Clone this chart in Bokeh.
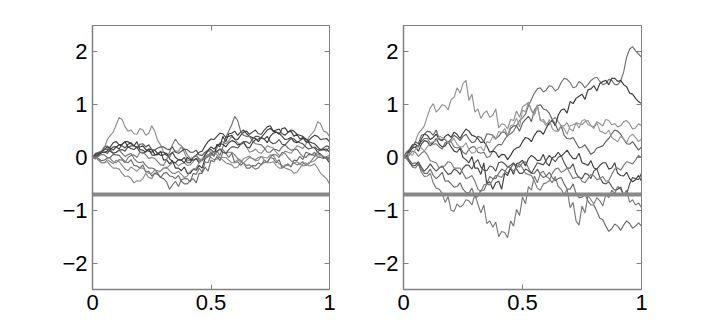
from bokeh.plotting import figure
from bokeh.layouts import row
from bokeh.models import Range1d, LinearAxis, FixedTicker
from bokeh.embed import file_html
from bokeh.resources import INLINE

# ---- left panel paths (small variance), equally spaced samples on [0, 1] ----
L1 = [0, .07, .06, .08, .18, .34, .42, .48, .62, .76, .72, .58, .5, .52, .45, .44, .55, .52, .42, .46, .6, .5, .32, .24, .1, .08, 0, .1, .12, .12, .2, .1, -.05, -.06, 0, .05, -.02, -.05, .05, .12, .1, .1, .18, .28, .3, .26, .32, .4, .35, .28, .25, .27, .2, .1, .12, .16, .1, .08, .15, .22, .2, .18, .1, .04, .05, .12, .1, .08, .15, .22, .2, .17, .25, .38, .45, .52, .68, .64, .5, .48, .4]
L2 = [0, .02, -.05, -.1, -.1, -.08, -.15, -.2, -.2, -.22, -.3, -.36, -.35, -.4, -.48, -.44, -.45, -.4, -.3, -.38, -.4, -.3, -.28, -.26, -.2, -.2, -.15, -.1, -.1, -.16, -.12, -.1, -.15, -.14, -.08, -.02, -.05, -.06, -.02, .04, 0, -.04, -.03, 0, -.05, -.1, -.12, -.14, -.2, -.18, -.1, -.02, 0, .03, -.02, -.06, -.05, .02, 0, -.01, .05, .04, -.05, -.12, -.15, -.2, -.22, -.24, -.3, -.28, -.2, -.12, -.1, -.16, -.15, -.12, -.2, -.3, -.35, -.4, -.5]
L3 = [0, -.02, .05, .1, .1, .12, .2, .28, .3, .24, .25, .3, .2, .17, .15, .2, .1, .08, .12, .16, .15, .06, .05, .12, -.05, -.04, -.12, -.06, -.2, -.2, -.25, -.18, -.3, -.3, -.22, -.24, -.15, -.2, -.02, .02, .1, .02, .25, .2, .4, .3, .45, .46, .5, .42, .48, .52, .45, .4, .38, .36, .3, .38, .35, .28, .4, .46, .48, .44, .55, .56, .48, .5, .4, .44, .35, .38, .3, .28, .2, .18, .1, .06, 0, -.02, -.1]
L4 = [0, .08, .1, .12, .2, .22, .15, .08, .1, .14, .08, .02, .05, .08, -.02, -.08, -.1, -.08, -.15, -.2, -.2, -.22, -.3, -.38, -.4, -.46, -.6, -.52, -.45, -.55, -.42, -.4, -.4, -.46, -.3, -.32, -.2, -.28, -.08, -.1, .05, .1, .12, .04, .2, .38, .5, .62, .78, .7, .5, .42, .4, .4, .32, .26, .25, .24, .18, .1, .1, .16, .15, .12, .2, .24, .18, .14, .15, .16, .08, .02, 0, .06, .05, .04, .1, .16, .15, .12, .2]
L5 = [0, .06, .08, .1, .15, .2, .18, .14, .2, .24, .22, .18, .25, .28, .22, .2, .2, .22, .15, .12, .1, .14, .08, .04, .05, .08, -.02, -.08, -.1, -.04, -.05, -.1, 0, -.04, -.05, -.02, -.1, -.04, .05, .14, .2, .16, .22, .26, .25, .2, .28, .32, .3, .24, .25, .3, .2, .18, .28, .34, .35, .38, .45, .52, .55, .5, .48, .46, .4, .34, .35, .38, .3, .28, .32, .36, .35, .3, .28, .26, .2, .14, .15, .16, .1]
L6 = [0, .03, -.02, -.06, -.05, -.01, 0, .06, .05, .04, -.02, -.08, -.1, -.04, -.15, -.16, -.2, -.14, -.28, -.26, -.35, -.3, -.32, -.38, -.3, -.28, -.35, -.36, -.4, -.34, -.45, -.5, -.5, -.44, -.4, -.48, -.3, -.3, -.18, -.26, -.05, -.08, .02, -.06, .1, .08, 0, .08, -.1, -.08, -.15, -.1, -.2, -.2, -.15, -.16, -.1, -.14, -.05, -.1, 0, -.02, -.1, -.04, -.2, -.16, -.12, -.18, -.05, -.06, .02, -.04, .1, .08, .05, .1, 0, 0, -.02, .02, -.05]
L7 = [0, .04, .05, .1, .1, .08, .15, .2, .2, .16, .25, .3, .3, .26, .22, .3, .15, .14, .1, .16, .05, .04, .08, .1, .1, .04, .05, .1, 0, -.04, -.05, 0, -.1, -.1, 0, .04, .1, .12, .22, .3, .35, .34, .4, .46, .45, .38, .4, .42, .35, .34, .42, .48, .5, .44, .48, .52, .45, .44, .52, .58, .6, .5, .52, .54, .45, .42, .48, .52, .5, .44, .42, .4, .35, .32, .38, .42, .4, .34, .35, .36, .3]
L8 = [0, -.03, .02, .06, .05, 0, -.02, -.08, -.1, -.04, -.05, -.1, 0, .04, .05, 0, .1, .1, .05, -.02, 0, -.02, -.08, -.14, -.15, -.04, .1, .24, .35, .26, .22, .16, .05, -.02, 0, .04, -.05, -.06, 0, .06, .05, .04, .1, .16, .15, .08, .1, .1, .05, -.02, -.05, -.12, -.15, -.14, -.18, -.22, -.2, -.12, -.1, -.08, 0, .06, .05, 0, .1, .08, 0, -.06, -.1, -.14, -.12, -.08, -.15, -.12, -.05, .02, .05, .06, .02, -.02, 0]
L9 = [0, .06, .08, .1, .15, .16, .12, .08, .1, .14, .15, .12, .2, .22, .22, .18, .25, .26, .2, .24, .15, .14, .18, .2, .2, .16, .15, .2, .1, .08, .12, .16, .15, .1, .1, .14, .05, .04, .1, .14, .15, .1, .12, .16, .1, .08, .15, .2, .2, .18, .25, .3, .3, .26, .35, .4, .4, .36, .35, .4, .3, .26, .28, .34, .25, .24, .3, .36, .35, .3, .28, .26, .2, .16, .18, .2, .15, .14, .18, .22, .2]
L10 = [0, .01, -.05, -.1, -.1, -.04, -.08, -.12, -.05, -.08, -.15, -.22, -.25, -.18, -.22, -.26, -.2, -.2, -.25, -.3, -.3, -.24, -.25, -.26, -.2, -.18, -.25, -.3, -.3, -.26, -.32, -.38, -.35, -.26, -.22, -.2, -.1, -.02, 0, .02, .1, .1, .05, 0, 0, 0, -.05, -.1, -.1, -.04, -.08, -.1, -.05, 0, -.02, -.04, 0, .02, -.05, -.1, -.1, -.08, -.15, -.2, -.2, -.14, -.15, -.16, -.1, -.08, -.12, -.16, -.15, -.1, -.08, -.06, 0, .04, .02, 0, .05]

# ---- right panel paths (larger variance) ----
R1 = [0, .1, .14, .18, .3, .46, .52, .6, .78, .94, 1.02, .86, .92, 1.0, .98, .9, 1.1, 1.14, 1.32, 1.22, 1.4, 1.46, 1.08, 1.2, .86, .92, .74, .84, .88, .76, .8, .92, .56, .64, .62, .54, .72, .7, .88, .76, .96, 1.0, 1.04, .9, .82, .98, .7, .72, .64, .62, .72, .76, .68, .6, .6, .66, .54, .5, .66, .64, .62, .68, .7, .6, .58, .68, .64, .6, .72, .7, .62, .64, .58, .6, .68, .7, .64, .54, .56, .64, .6]
R2 = [0, .08, .1, .18, .2, .22, .3, .36, .36, .28, .25, .26, .2, .16, .28, .3, .3, .2, .18, .2, .1, .06, .16, .2, .2, .1, .08, .1, 0, .02, .12, .2, .25, .24, .34, .42, .45, .5, .6, .7, .75, .82, .98, 1.1, 1.22, 1.3, 1.32, 1.24, 1.28, 1.36, 1.34, 1.26, 1.3, 1.42, 1.5, 1.48, 1.42, 1.32, 1.34, 1.44, 1.4, 1.32, 1.38, 1.46, 1.5, 1.52, 1.44, 1.38, 1.4, 1.48, 1.46, 1.38, 1.38, 1.45, 1.62, 1.9, 2.05, 2.1, 2.02, 1.96, 1.9]
R3 = [0, .04, .15, .24, .25, .2, .35, .44, .42, .34, .38, .44, .34, .32, .4, .44, .38, .48, .44, .36, .46, .54, .5, .42, .4, .36, .28, .3, .22, .1, .12, .1, 0, .06, .05, -.04, .04, .14, .18, .2, .3, .38, .36, .3, .42, .5, .5, .44, .56, .66, .7, .6, .8, .9, .92, .84, 1.06, 1.02, 1.12, 1.16, 1.2, 1.1, 1.28, 1.3, 1.36, 1.26, 1.4, 1.44, 1.46, 1.38, 1.5, 1.5, 1.44, 1.46, 1.38, 1.34, 1.22, 1.2, 1.12, 1.06, 1.02]
R4 = [0, -.02, -.1, -.18, -.2, -.12, -.28, -.36, -.35, -.3, -.48, -.58, -.6, -.68, -.85, -.74, -1.0, -1.02, -.88, -.94, -.9, -.8, -.82, -.9, -.7, -.88, -1.05, -.9, -1.25, -1.2, -1.32, -1.22, -1.5, -1.4, -1.42, -1.52, -1.2, -1.3, -.98, -1.1, -.75, -.88, -.55, -.62, -.35, -.48, -.3, -.26, -.36, -.4, -.48, -.36, -.55, -.6, -.7, -.6, -.95, -.85, -1.2, -1.28, -.92, -1.05, -.72, -.8, -.88, -.76, -.82, -.92, -.7, -.76, -.62, -.68, -.55, -.6, -.7, -.62, -.85, -.8, -.9, -.86, -.95]
R5 = [0, .04, -.05, -.12, -.1, -.12, -.22, -.3, -.3, -.22, -.34, -.4, -.35, -.28, -.45, -.44, -.5, -.56, -.55, -.48, -.6, -.66, -.68, -.58, -.75, -.74, -.62, -.62, -.5, -.36, -.4, -.4, -.3, -.22, -.25, -.3, -.2, -.12, -.15, -.18, -.1, -.08, -.2, -.3, -.3, -.22, -.32, -.38, -.35, -.28, -.38, -.44, -.4, -.38, -.5, -.6, -.6, -.5, -.68, -.76, -.75, -.7, -.82, -.9, -.9, -1.02, -1.15, -1.18, -1.3, -1.4, -1.35, -1.26, -1.3, -1.38, -1.28, -1.2, -1.25, -1.34, -1.3, -1.24, -1.3]
R6 = [0, .02, .1, .18, .2, .12, .25, .32, .3, .22, .28, .36, .25, .2, .22, .3, .2, .12, .1, .18, 0, -.04, -.1, .02, -.2, -.2, -.32, -.1, -.5, -.46, -.6, -.48, -.45, -.6, -.3, -.34, -.2, -.32, -.12, -.1, -.05, -.16, -.02, .04, 0, -.06, -.05, .06, -.1, -.16, 0, .02, .1, .02, .08, .14, .05, -.02, -.02, .08, -.1, -.12, -.15, -.06, -.2, -.22, -.15, -.1, -.1, -.22, -.2, -.1, -.3, -.34, -.35, -.28, -.4, -.46, -.42, -.34, -.45]
R7 = [0, .1, .15, .2, .3, .26, .42, .44, .5, .48, .42, .52, .35, .34, .34, .28, .35, .42, .38, .32, .4, .44, .35, .28, .3, .4, .38, .3, .45, .44, .42, .36, .4, .48, .48, .4, .55, .6, .6, .5, .65, .72, .78, .68, .9, .98, 1.0, .92, .9, .84, .72, .64, .5, .6, .42, .36, .35, .38, .28, .18, .2, .24, .15, .06, .1, .18, .2, .22, .3, .36, .45, .52, .5, .44, .35, .26, .25, .3, .22, .14, .2]
R8 = [0, .02, -.08, -.16, -.15, -.08, -.18, -.26, -.2, -.12, -.2, -.26, -.2, -.16, -.25, -.32, -.3, -.22, -.25, -.32, -.2, -.14, -.15, -.22, -.1, -.04, -.18, -.24, -.25, -.16, -.18, -.26, -.1, -.08, -.12, -.18, -.15, -.1, -.22, -.3, -.3, -.22, -.25, -.3, -.2, -.1, -.12, -.14, -.05, .04, -.02, -.08, 0, .04, -.1, -.2, -.2, -.12, -.3, -.38, -.4, -.3, -.32, -.4, -.25, -.22, -.38, -.48, -.5, -.46, -.55, -.62, -.6, -.56, -.72, -.7, -.5, -.38, -.4, -.42, -.3]
R9 = [0, -.02, .05, .12, .1, .02, .08, .12, .05, -.06, -.08, -.1, -.2, -.18, -.15, -.08, -.1, -.2, -.2, -.2, -.3, -.4, -.38, -.34, -.45, -.6, -.65, -.52, -.5, -.52, -.42, -.34, -.35, -.38, -.28, -.18, -.2, -.26, -.2, -.12, -.2, -.3, -.32, -.34, -.45, -.58, -.62, -.5, -.48, -.44, -.3, -.22, -.2, -.28, -.25, -.2, -.3, -.4, -.38, -.36, -.45, -.48, -.4, -.32, -.35, -.42, -.4, -.36, -.45, -.44, -.32, -.22, -.2, -.24, -.15, -.08, -.1, -.12, -.05, .04, 0]
R10 = [0, .06, .08, .04, .15, .22, .18, .12, .2, .28, .3, .32, .4, .38, .35, .28, .3, .36, .25, .2, .2, .28, .15, .08, .1, .18, .2, .12, .3, .28, .4, .34, .5, .46, .55, .42, .6, .62, .75, .58, .9, .86, 1.05, .88, .8, 1.0, .7, .68, .6, .72, .55, .5, .5, .6, .55, .44, .6, .62, .65, .56, .7, .72, .62, .6, .55, .66, .5, .48, .45, .52, .38, .34, .3, .4, .35, .28, .4, .44, .38, .3, .35]

left_paths = [L1, L2, L3, L4, L5, L6, L7, L8, L9, L10]
right_paths = [R1, R2, R3, R4, R5, R6, R7, R8, R9, R10]
shade_left = ["#8c8c8c", "#8c8c8c", "#3a3a3a", "#707070", "#3a3a3a", "#6a6a6a", "#404040", "#7a7a7a", "#505050", "#8a8a8a"]
shade_right = ["#909090", "#707070", "#3a3a3a", "#7a7a7a", "#6a6a6a", "#404040", "#606060", "#505050", "#7a7a7a", "#9a9a9a"]

barrier = -0.7
barrier_x = [0, 1]

x_ticks = [0, 0.5, 1]
x_labels = {0: "0", 0.5: "0.5", 1: "1"}
y_ticks = [-2, -1, 0, 1, 2]
y_labels = {-2: "\u22122", -1: "\u22121", 0: "0", 1: "1", 2: "2"}

AX = "#808080"
FONT = "Liberation Sans"


def grid_for(ys):
    n = len(ys) - 1
    return [i / n for i in range(n + 1)]


def style_axis(ax, ticks, labels, show_labels):
    ax.ticker = FixedTicker(ticks=ticks)
    ax.major_label_overrides = labels
    ax.axis_line_color = AX
    ax.axis_line_width = 1.5
    ax.major_tick_line_color = AX
    ax.major_tick_in = 5
    ax.major_tick_out = 0
    ax.minor_tick_line_color = None
    ax.major_label_text_font = FONT
    ax.major_label_text_font_size = "22px"
    ax.major_label_text_color = "black" if show_labels else None
    ax.major_label_standoff = 5


def make_panel(paths, shades, bl, br, frame_w):
    p = figure(width=bl + frame_w + br, height=25 + 264 + 32, output_backend="svg", toolbar_location=None,
               x_range=Range1d(0, 1), y_range=Range1d(-2.5, 2.5),
               min_border_left=bl, min_border_right=br, min_border_top=25, min_border_bottom=32)
    p.xgrid.visible = False
    p.ygrid.visible = False
    p.outline_line_color = AX
    p.outline_line_width = 1
    style_axis(p.xaxis[0], x_ticks, x_labels, True)
    style_axis(p.yaxis[0], y_ticks, y_labels, True)
    top = LinearAxis()
    style_axis(top, x_ticks, x_labels, False)
    top.axis_line_width = 1
    p.add_layout(top, "above")
    right = LinearAxis()
    style_axis(right, y_ticks, y_labels, False)
    right.axis_line_width = 1
    p.add_layout(right, "right")
    for ys, c in zip(paths, shades):
        p.line(grid_for(ys), ys, line_color=c, line_width=1.15)
    p.line(barrier_x, [barrier, barrier], line_color="#888888", line_width=4)
    return p


p1 = make_panel(left_paths, shade_left, 92, 10, 237)
p2 = make_panel(right_paths, shade_right, 64, 10, 238)
layout = row(p1, p2)

open("out.html", "w").write(file_html(layout, INLINE))
